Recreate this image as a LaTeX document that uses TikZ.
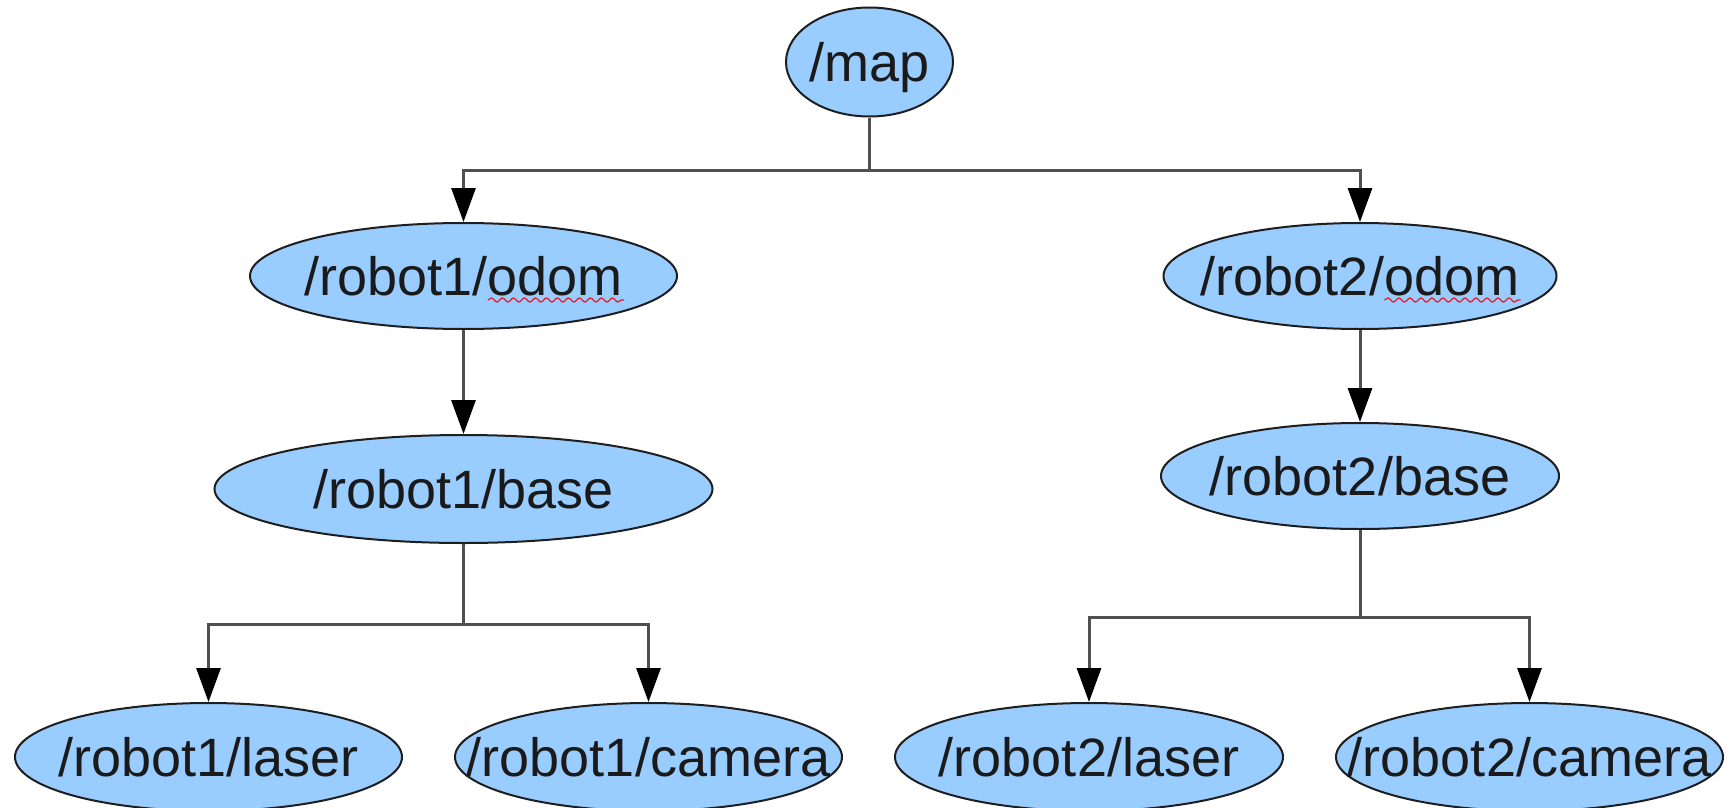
\documentclass[tikz,border=0pt]{standalone}
\usepackage{fontspec}
\setmainfont{Liberation Sans}
\usetikzlibrary{arrows.meta,shapes.geometric,decorations.pathmorphing}
\definecolor{nodefill}{HTML}{99CCFF}
\definecolor{edgegray}{HTML}{505050}
\definecolor{rimcolor}{HTML}{1E1E1E}
\definecolor{txtcolor}{HTML}{1A1A1A}
\definecolor{spellred}{HTML}{E8202A}
\newcommand{\nodetxt}[1]{\makebox[0pt]{#1}}
\begin{document}
\begin{tikzpicture}[x=1pt,y=-1pt,
  frame/.style={ellipse, draw=rimcolor, line width=2pt, fill=nodefill,
    inner sep=0pt, text=txtcolor, font=\fontsize{54pt}{60pt}\selectfont,
    text height=38.5pt, text depth=0pt},
  link/.style={draw=edgegray, line width=3pt, line join=miter},
  arr/.style={link, -{Triangle[length=34pt,width=24pt,color=black]}},
  spell/.style={draw=spellred, line width=1.3pt, decorate,
    decoration={snake, segment length=11pt, amplitude=2pt}}
]
\useasboundingbox (0,0) rectangle (1733,808);

% nodes
\node[frame, minimum width=167pt, minimum height=109pt] (map) at (869.5,62) {\nodetxt{/map}};
\node[frame, minimum width=427pt, minimum height=106pt] (r1odom) at (463.5,276) {\nodetxt{/robot1/odom}};
\node[frame, minimum width=393pt, minimum height=106pt] (r2odom) at (1360,276) {\nodetxt{/robot2/odom}};
\node[frame, minimum width=498pt, minimum height=108pt] (r1base) at (463.5,489) {\nodetxt{/robot1/base}};
\node[frame, minimum width=398pt, minimum height=106pt] (r2base) at (1360,476) {\nodetxt{/robot2/base}};
\node[frame, minimum width=387pt, minimum height=108pt] (r1laser) at (208.5,757) {\nodetxt{/robot1/laser}};
\node[frame, minimum width=387pt, minimum height=108pt] (r1cam) at (648.5,757) {\nodetxt{/robot1/camera}};
\node[frame, minimum width=388pt, minimum height=108pt] (r2laser) at (1089,757) {\nodetxt{/robot2/laser}};
\node[frame, minimum width=387pt, minimum height=108pt] (r2cam) at (1529.5,757) {\nodetxt{/robot2/camera}};

% spell-check underlines
\draw[spell] ([shift={(24.5pt,-24pt)}]r1odom.center) -- ++(136,0);
\draw[spell] ([shift={(24.5pt,-24pt)}]r2odom.center) -- ++(136,0);

% junctions
\coordinate (j0) at (869.5,170);
\coordinate (j1) at (463.5,624);
\coordinate (j2) at (1360,617);

% connectors
\draw[link] (map.south) -- (j0);
\draw[arr] (j0) -| (r1odom.north);
\draw[arr] (j0) -| (r2odom.north);
\draw[arr] (r1odom.south) -- (r1base.north);
\draw[arr] (r2odom.south) -- (r2base.north);
\draw[link] (r1base.south) -- (j1);
\draw[arr] (j1) -| (r1laser.north);
\draw[arr] (j1) -| (r1cam.north);
\draw[link] (r2base.south) -- (j2);
\draw[arr] (j2) -| (r2laser.north);
\draw[arr] (j2) -| (r2cam.north);
\end{tikzpicture}
\end{document}
